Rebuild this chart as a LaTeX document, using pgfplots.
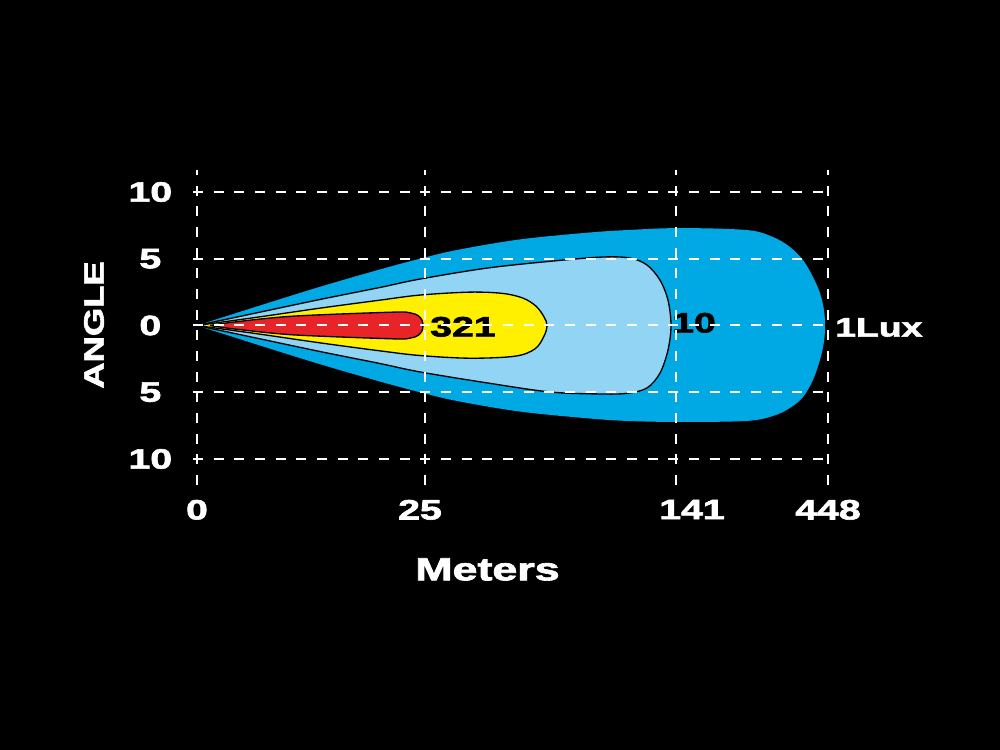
\documentclass[border=0pt]{standalone}
\usepackage{fontspec}
\setmainfont{Liberation Sans}[BoldFeatures={FakeBold=2}]
\usepackage{pgfplots}
\pgfplotsset{compat=1.18}
\definecolor{outerblue}{RGB}{0,168,228}
\definecolor{lightblue}{RGB}{146,212,243}
\definecolor{beamyellow}{RGB}{255,240,0}
\definecolor{beamred}{RGB}{232,36,40}
\newcommand\W[1]{\scalebox{1.4}[1]{\bfseries #1}}
\begin{document}
\begin{tikzpicture}
\fill[black] (0,0) rectangle (750pt,562.5pt);
\useasboundingbox (0,0) rectangle (750pt,562.5pt);
\begin{axis}[
  at={(144.75pt,198.75pt)}, anchor=south west,
  scale only axis, width=479.25pt, height=236.25pt,
  xmin=-4, xmax=635, ymin=-11.95, ymax=11.65,
  axis on top, clip=false,
  axis line style={draw=none}, major tick length=0pt,
  xtick={0,228,479,631},
  xticklabels={\W{0},{\W{25}\hspace*{7.5pt}},{\hspace*{24pt}\W{141}},\W{448}},
  ytick={-10,-5,0,5,10},
  yticklabels={\W{10},\W{5},\W{0},\W{5},\W{10}},
  grid=major,
  major grid style={white, line width=1.5pt, dash pattern=on 7.5pt off 8pt},
  xticklabel style={font=\fontsize{21}{21}\selectfont, text=white, anchor=north, inner sep=0pt, yshift=-11pt},
  yticklabel style={font=\fontsize{21}{21}\selectfont, text=white, anchor=center, inner sep=0pt, xshift=-32pt},
]
% 1 lux
\addplot[draw=none, fill=outerblue, smooth, tension=0.55] coordinates {
 (0,0) (63,1.5) (123,2.9) (183,4.2) (228,5.1) (263,5.7) (323,6.45) (390,6.95) (430,7.15) (483,7.3) (550,7.15) (576,6.63) (593,5.88) (606,4.9) (616,3.63) (623,2.43) (627,1.16) (628,0)
 (627,-1.2) (623,-2.58) (616,-4.08) (606,-5.36) (593,-6.18) (576,-6.78) (550,-7.15) (483,-7.23) (430,-7.15) (390,-6.95) (323,-6.45) (263,-5.7) (228,-5.1) (183,-4.2) (123,-2.9) (63,-1.5) (0,0)
};
% 10 lux
\addplot[draw=black, line width=1pt, fill=lightblue, smooth, tension=0.55] coordinates {
 (0,0) (63,1.0) (123,1.95) (183,2.85) (223,3.48) (290,4.3) (356,4.83) (406,5.13) (433,5.05) (450,4.53) (463,3.4) (471,1.9) (474,0)
 (471,-1.84) (463,-3.56) (450,-4.68) (430,-5.08) (403,-5.13) (353,-4.98) (290,-4.3) (223,-3.48) (183,-2.85) (123,-1.95) (63,-1.0) (0,0)
};
% yellow
\addplot[draw=black, line width=1pt, fill=beamyellow, smooth, tension=0.55] coordinates {
 (0,0) (63,0.65) (123,1.3) (183,1.9) (223,2.28) (273,2.5) (306,2.4) (326,2.05) (339,1.45) (347,0.65) (350,0)
 (347,-0.8) (338,-1.75) (318,-2.3) (273,-2.45) (223,-2.25) (183,-1.9) (123,-1.3) (63,-0.65) (0,0)
};
% red
\addplot[draw=black, line width=1pt, fill=beamred, smooth, tension=0.5] coordinates {
 (13,0) (36,0.25) (96,0.7) (196,1.0) (213,0.95) (221,0.75) (225,0.4) (226,0)
 (225,-0.4) (221,-0.75) (213,-0.95) (196,-1.0) (96,-0.7) (36,-0.25) (13,0)
};
\node[anchor=west, inner sep=0pt, font=\fontsize{21}{21}\selectfont, text=black] at (axis cs:233,-0.1) {\W{321}};
\node[anchor=west, inner sep=0pt, font=\fontsize{21}{21}\selectfont, text=black] at (axis cs:475,0.2) {\W{10}};
\node[anchor=west, inner sep=0pt, font=\fontsize{20}{20}\selectfont, text=white] at (axis cs:638,-0.15) {\W{1Lux}};
\end{axis}
\node[inner sep=0pt, font=\fontsize{24}{24}\selectfont, text=white] at (365.6pt,135.4pt) {\W{Meters}};
\node[inner sep=0pt, rotate=90, font=\fontsize{21}{21}\selectfont, text=white] at (70.5pt,318.75pt) {\scalebox{1.3}[1]{\bfseries ANGLE}};
\end{tikzpicture}
\end{document}
